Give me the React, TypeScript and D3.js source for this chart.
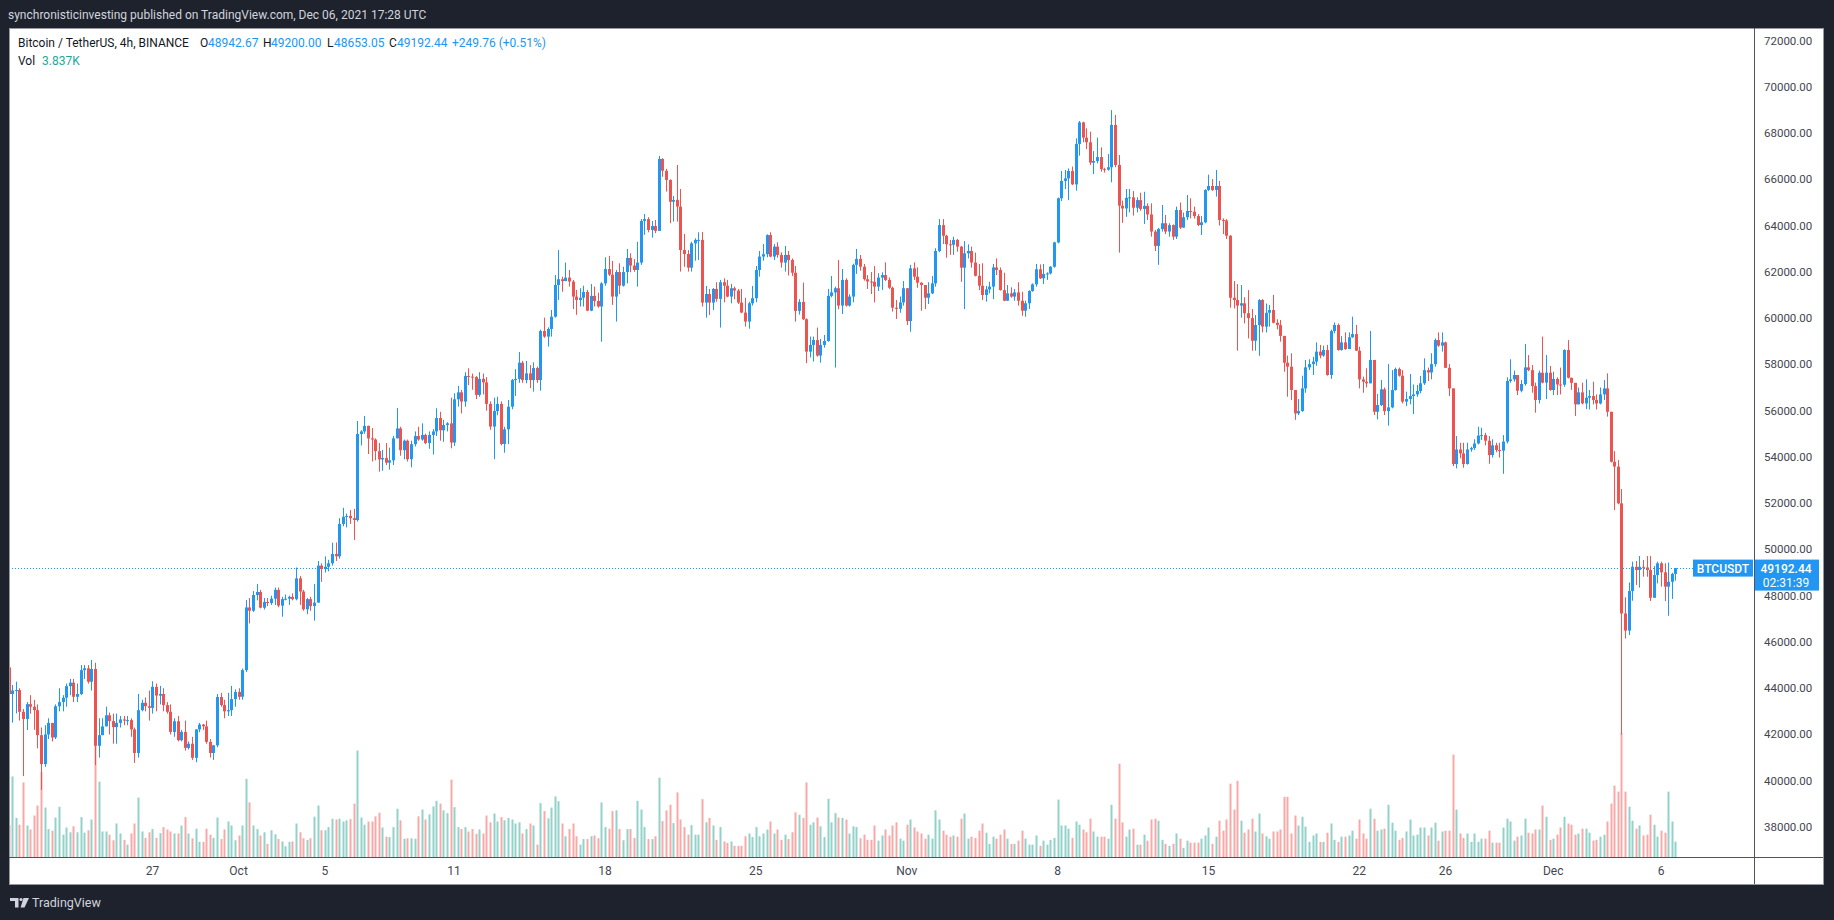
import * as d3 from "d3";
import { useEffect, useRef } from "react";

const WIDTH = 1834;
const HEIGHT = 920;

// BTCUSDT 4h candles, first candle opens 2021-09-20 08:00 UTC. Prices in thousands of USDT.
const firstCandleTime = "2021-09-20T08:00:00Z";
const firstOpen = 44.9;

const closes = [
  43.75, 43.9, 43.92, 42.98, 42.67, 43.31, 43.2, 43.05, 41.97, 40.72,
  42.0, 42.5, 41.87, 43.22, 43.4, 43.59, 44.09, 44.24, 43.63, 43.75,
  44.78, 44.86, 44.28, 44.83, 41.51, 41.97, 42.35, 42.83, 42.58, 42.32,
  42.5, 42.65, 42.6, 42.62, 42.22, 41.2, 43.05, 43.37, 43.22, 43.15,
  44.06, 43.68, 43.75, 43.27, 42.98, 42.11, 42.57, 41.75, 42.11, 41.42,
  41.6, 40.99, 42.22, 42.43, 42.35, 41.68, 41.2, 41.53, 43.62, 43.27,
  43.0, 43.05, 43.53, 43.84, 43.63, 44.78, 47.49, 47.35, 48.03, 48.16,
  47.48, 47.73, 47.68, 47.87, 48.25, 47.57, 47.85, 47.87, 47.95, 47.85,
  48.75, 48.18, 47.41, 47.85, 47.55, 47.7, 49.3, 49.15, 49.25, 49.4,
  49.8, 49.7, 51.1, 51.41, 51.45, 51.35, 51.27, 54.99, 55.1, 55.34,
  54.8, 54.75, 54.25, 53.89, 53.95, 53.75, 53.85, 54.8, 55.23, 54.29,
  54.7, 53.9, 54.55, 54.9, 54.75, 54.95, 54.6, 54.95, 55.1, 55.68,
  55.15, 55.38, 55.45, 54.62, 56.49, 56.79, 56.39, 57.5, 57.47, 57.45,
  56.68, 57.37, 57.22, 56.29, 55.31, 55.98, 56.29, 54.56, 55.19, 56.17,
  57.32, 57.37, 58.07, 57.32, 57.61, 57.32, 57.84, 57.32, 59.44, 59.2,
  59.53, 60.06, 61.43, 61.68, 61.6, 61.75, 61.58, 60.93, 60.78, 60.88,
  61.13, 60.32, 60.96, 60.74, 60.5, 61.5, 62.12, 61.88, 60.93, 61.99,
  61.4, 61.99, 62.6, 62.27, 62.08, 62.4, 64.2, 64.28, 63.81, 63.98,
  63.77, 66.88, 66.37, 65.97, 65.03, 65.11, 64.82, 62.94, 62.77, 62.18,
  63.23, 63.38, 63.38, 60.67, 61.04, 60.67, 61.26, 60.83, 61.55, 61.4,
  60.93, 61.29, 61.19, 60.67, 60.24, 59.85, 60.64, 60.86, 62.08, 62.66,
  62.76, 63.59, 62.66, 63.09, 62.73, 62.4, 62.73, 62.51, 61.96, 60.31,
  60.7, 59.95, 58.55, 58.84, 59.05, 58.38, 58.84, 59.01, 60.96, 61.11,
  61.29, 60.54, 61.65, 60.54, 60.93, 62.3, 62.56, 62.22, 61.68, 61.58,
  61.57, 61.36, 61.75, 61.86, 61.65, 61.31, 60.45, 60.4, 60.68, 61.29,
  59.87, 62.15, 61.79, 61.53, 61.43, 60.88, 61.07, 61.5, 62.9, 64.02,
  63.56, 63.19, 63.17, 63.38, 63.09, 62.18, 62.8, 62.9, 62.4, 61.83,
  61.4, 61.0, 61.24, 61.36, 62.19, 62.08, 61.21, 60.75, 61.07, 60.93,
  61.11, 60.75, 60.32, 60.64, 61.17, 61.46, 62.11, 61.72, 61.91, 61.93,
  62.22, 63.27, 65.18, 65.93, 66.04, 66.36, 65.78, 67.53, 68.46, 67.8,
  67.6, 66.72, 66.79, 66.96, 66.44, 66.42, 66.52, 68.35, 66.62, 64.86,
  64.74, 65.2, 65.22, 64.77, 65.1, 64.72, 64.85, 64.48, 63.74, 63.12,
  63.85, 64.1, 63.74, 64.02, 63.52, 64.67, 63.91, 64.36, 64.63, 64.6,
  64.41, 64.02, 64.14, 65.54, 65.71, 65.54, 65.71, 64.24, 64.22, 63.56,
  60.88, 60.78, 60.54, 60.64, 60.21, 60.0, 59.02, 59.7, 60.78, 59.63,
  60.23, 60.35, 59.8, 59.7, 59.23, 58.07, 57.9, 56.89, 55.88, 55.98,
  56.96, 57.87, 58.01, 58.12, 58.55, 58.38, 58.62, 57.54, 59.44, 59.7,
  58.62, 58.95, 58.66, 59.17, 59.31, 58.59, 57.35, 57.25, 57.18, 58.19,
  55.95, 56.24, 56.92, 55.98, 56.14, 56.89, 57.8, 57.51, 56.39, 56.5,
  56.63, 56.7, 56.85, 57.18, 57.75, 57.65, 58.01, 59.05, 58.81, 58.95,
  57.85, 56.96, 53.69, 54.32, 54.15, 53.69, 54.32, 54.38, 54.58, 54.92,
  54.94, 54.7, 54.08, 54.5, 54.3, 54.27, 54.66, 57.28, 57.35, 57.54,
  56.86, 57.15, 57.87, 57.75, 57.06, 56.46, 57.64, 57.21, 57.64, 56.89,
  57.37, 57.13, 57.12, 58.62, 57.42, 57.2, 56.27, 56.79, 56.31, 56.56,
  56.63, 56.46, 56.31, 56.7, 56.96, 55.95, 53.79, 53.58, 51.99, 47.23,
  46.49, 48.2, 49.25, 49.11, 49.25, 49.22, 49.11, 47.91, 48.89, 49.4,
  49.01, 48.39, 48.6, 48.94267, 49.19244,
];

const highs = [
  45.3, 44.14, 44.28, 44.0, 43.1, 43.4, 43.7, 43.5, 43.3, 42.3,
  42.4, 42.7, 42.5, 43.3, 44.0, 43.7, 44.2, 44.4, 44.4, 44.2,
  45.0, 45.0, 45.0, 45.22, 45.1, 42.7, 42.7, 43.2, 42.95, 42.9,
  42.9, 42.8, 42.8, 42.8, 42.7, 42.3, 43.75, 43.5, 43.6, 43.9,
  44.3, 44.2, 44.1, 44.0, 43.4, 43.3, 42.7, 42.8, 42.2, 42.6,
  41.7, 41.9, 42.22, 42.5, 42.45, 42.6, 41.8, 41.55, 43.75, 43.8,
  43.5, 43.8, 44.1, 43.95, 44.0, 44.85, 47.81, 47.9, 48.2, 48.5,
  48.25, 47.9, 47.9, 48.0, 48.35, 48.35, 47.95, 48.05, 48.0, 48.1,
  49.22, 48.85, 48.25, 47.9, 47.95, 48.5, 49.5, 49.4, 49.7, 49.55,
  50.29, 50.3, 51.35, 51.8, 51.55, 51.7, 51.75, 55.55, 55.15, 55.77,
  55.35, 55.25, 54.8, 54.6, 54.3, 54.6, 54.4, 54.9, 56.11, 55.3,
  54.75, 54.75, 54.7, 55.1, 55.3, 55.45, 55.0, 55.1, 55.2, 56.1,
  55.95, 55.6, 55.5, 56.56, 56.75, 57.07, 56.9, 57.66, 57.83, 57.6,
  57.5, 57.66, 57.6, 57.45, 56.4, 56.56, 56.6, 56.4, 55.3, 56.46,
  57.37, 57.79, 58.53, 58.15, 58.15, 57.97, 58.09, 57.9, 59.5, 60.02,
  59.6, 60.35, 61.86, 62.94, 61.79, 62.4, 62.08, 61.65, 61.22, 61.29,
  61.4, 61.22, 61.47, 61.36, 61.1, 61.55, 62.63, 62.69, 62.47, 62.08,
  62.37, 62.22, 62.99, 62.8, 62.55, 63.3, 64.28, 64.5, 64.36, 64.2,
  64.24, 67.01, 66.91, 66.45, 66.0, 65.28, 66.62, 65.58, 63.64, 62.94,
  63.3, 63.45, 63.71, 63.72, 61.39, 61.26, 61.3, 61.55, 61.65, 61.72,
  61.65, 61.48, 61.36, 61.26, 61.26, 60.88, 60.71, 61.39, 62.25, 62.9,
  63.2, 63.62, 63.71, 63.2, 63.28, 62.84, 63.12, 62.9, 62.58, 62.25,
  60.82, 61.53, 59.99, 59.2, 59.2, 59.59, 59.1, 59.27, 61.26, 61.82,
  61.36, 62.51, 62.12, 61.72, 61.03, 62.35, 62.99, 62.73, 62.34, 61.86,
  61.99, 62.25, 61.94, 61.98, 62.41, 61.76, 61.36, 60.78, 60.93, 61.6,
  61.29, 62.3, 62.41, 62.19, 61.55, 61.43, 61.55, 61.82, 63.02, 64.28,
  64.28, 63.6, 63.38, 63.52, 63.42, 63.12, 63.33, 63.19, 63.09, 62.83,
  62.34, 62.37, 61.39, 61.57, 62.34, 62.58, 62.19, 61.96, 61.43, 61.33,
  61.26, 61.55, 61.14, 60.75, 61.2, 61.5, 62.34, 62.32, 62.34, 61.98,
  62.25, 63.3, 65.21, 66.36, 66.4, 66.47, 66.55, 67.77, 68.52, 68.49,
  68.2, 68.06, 67.22, 67.8, 67.38, 66.5, 67.09, 68.99, 68.78, 67.05,
  65.08, 65.58, 65.58, 65.49, 65.22, 65.42, 65.46, 64.96, 64.96, 63.81,
  63.9, 64.89, 64.46, 64.1, 64.05, 64.82, 65.0, 64.56, 65.32, 65.18,
  64.82, 64.5, 64.41, 65.57, 66.2, 66.01, 66.4, 65.93, 64.31, 64.28,
  63.59, 61.6, 61.47, 61.43, 60.9, 61.21, 60.39, 60.13, 60.82, 60.82,
  60.63, 60.57, 61.0, 59.95, 59.92, 59.23, 58.38, 58.48, 56.89, 56.5,
  57.51, 58.19, 58.22, 58.33, 58.95, 58.84, 58.81, 58.84, 59.5, 59.81,
  59.77, 59.22, 59.38, 59.38, 60.06, 59.7, 58.76, 57.47, 57.83, 59.44,
  58.19, 56.72, 57.32, 57.0, 58.01, 57.75, 57.86, 57.86, 57.75, 56.82,
  57.58, 57.13, 57.11, 57.5, 58.26, 57.86, 58.48, 59.12, 59.38, 59.38,
  58.98, 58.01, 56.96, 54.9, 54.61, 54.61, 54.61, 54.44, 54.76, 55.3,
  55.26, 55.04, 54.9, 54.76, 54.61, 54.61, 54.94, 57.44, 58.22, 57.73,
  57.54, 57.32, 58.88, 58.4, 57.97, 57.21, 57.73, 59.2, 58.4, 57.93,
  57.68, 57.44, 57.86, 58.65, 59.05, 57.42, 57.2, 57.0, 57.21, 57.35,
  56.89, 57.25, 56.7, 57.0, 57.32, 57.61, 55.95, 54.25, 53.86, 52.61,
  47.93, 48.57, 49.47, 49.5, 49.71, 49.54, 49.71, 49.71, 49.28, 49.47,
  49.47, 49.4, 49.43, 48.99, 49.2,
];

const lows = [
  43.4, 42.51, 42.91, 42.6, 40.2, 42.19, 42.9, 42.2, 41.4, 39.6,
  40.6, 41.8, 41.7, 41.8, 43.0, 43.0, 43.2, 43.7, 43.4, 43.4,
  43.7, 44.4, 44.2, 43.9, 40.67, 41.0, 42.0, 42.35, 42.0, 41.6,
  41.6, 42.3, 42.4, 42.4, 41.9, 40.77, 41.0, 43.0, 43.0, 42.6,
  42.9, 43.0, 43.3, 43.0, 42.9, 42.0, 41.9, 41.7, 41.7, 41.3,
  41.35, 40.9, 40.8, 42.1, 42.2, 41.6, 41.0, 40.9, 41.45, 43.2,
  42.7, 42.8, 42.8, 43.2, 43.5, 43.5, 44.7, 46.8, 47.3, 47.8,
  47.45, 47.4, 47.55, 47.6, 47.6, 47.5, 47.09, 47.8, 47.6, 47.8,
  47.8, 47.6, 47.35, 47.2, 47.35, 46.92, 47.7, 48.6, 49.0, 49.05,
  49.3, 49.5, 49.6, 51.0, 50.95, 51.1, 50.41, 51.2, 54.5, 55.0,
  54.12, 53.8, 53.85, 53.36, 53.4, 53.65, 53.45, 53.65, 54.8, 54.05,
  53.9, 53.8, 53.55, 54.45, 54.7, 54.7, 54.55, 54.35, 54.1, 54.9,
  54.7, 54.65, 55.1, 54.37, 54.47, 56.17, 55.88, 56.17, 57.1, 56.9,
  56.5, 56.6, 56.7, 56.0, 55.17, 53.9, 55.8, 54.5, 54.18, 54.55,
  56.06, 56.63, 57.2, 57.2, 57.18, 56.97, 56.82, 57.2, 56.86, 59.15,
  58.77, 59.2, 60.02, 60.78, 61.14, 61.6, 61.36, 60.39, 60.14, 60.5,
  60.5, 60.3, 60.3, 60.5, 60.45, 58.98, 61.4, 61.82, 60.57, 59.85,
  61.04, 61.36, 61.5, 61.98, 62.0, 61.36, 62.3, 63.6, 63.71, 63.48,
  63.67, 63.77, 66.11, 65.47, 64.1, 64.17, 64.17, 62.01, 62.22, 62.01,
  62.01, 62.48, 62.51, 60.5, 60.02, 60.13, 60.35, 60.71, 59.59, 60.68,
  60.9, 60.64, 60.81, 60.61, 60.21, 59.63, 59.54, 60.54, 60.68, 61.79,
  62.48, 62.63, 62.63, 62.51, 62.61, 62.18, 62.01, 61.84, 61.82, 59.85,
  60.15, 59.92, 58.05, 58.3, 58.12, 58.33, 58.07, 58.72, 58.98, 60.9,
  57.86, 60.38, 60.18, 60.5, 60.5, 60.68, 61.91, 62.05, 61.62, 61.26,
  61.04, 60.68, 61.17, 61.22, 61.6, 61.26, 60.28, 59.96, 60.23, 60.54,
  59.7, 59.41, 61.65, 61.31, 60.32, 60.39, 60.61, 61.04, 61.36, 62.85,
  63.2, 62.61, 62.73, 62.73, 62.87, 61.57, 60.39, 62.58, 62.18, 61.8,
  61.21, 60.78, 60.71, 61.07, 60.82, 61.86, 61.19, 60.73, 60.75, 60.88,
  60.75, 60.54, 60.1, 60.06, 60.39, 61.14, 61.36, 61.69, 61.47, 61.65,
  61.89, 62.18, 63.23, 65.06, 65.58, 65.1, 65.75, 65.51, 67.02, 67.6,
  67.31, 66.62, 66.23, 66.69, 66.33, 66.29, 66.37, 65.87, 66.52, 62.83,
  64.12, 64.38, 64.57, 64.43, 64.57, 64.64, 64.07, 64.24, 63.52, 62.9,
  62.3, 63.74, 63.63, 63.52, 63.38, 63.42, 63.85, 63.91, 64.24, 64.31,
  64.3, 63.98, 63.59, 64.1, 65.49, 65.49, 65.25, 64.0, 63.63, 63.42,
  60.45, 60.42, 58.59, 60.02, 59.77, 59.12, 58.59, 58.59, 58.37, 59.38,
  59.38, 59.63, 59.77, 59.51, 58.98, 57.68, 56.6, 56.46, 55.6, 55.81,
  55.95, 56.77, 57.76, 57.54, 57.94, 58.26, 58.33, 57.51, 57.37, 59.34,
  58.59, 58.59, 58.62, 58.66, 59.15, 58.58, 56.96, 56.77, 57.0, 57.18,
  55.81, 55.62, 56.2, 55.81, 55.35, 56.1, 56.86, 57.47, 56.31, 56.2,
  56.27, 55.85, 56.6, 56.75, 57.11, 57.28, 57.35, 57.9, 58.76, 58.55,
  57.85, 56.63, 53.6, 53.5, 53.94, 53.53, 53.67, 54.22, 54.3, 54.54,
  54.73, 54.5, 53.7, 53.97, 54.2, 53.97, 53.27, 54.58, 57.21, 57.25,
  56.67, 56.79, 57.08, 57.7, 56.77, 55.91, 56.31, 57.18, 56.5, 56.86,
  56.67, 56.67, 56.7, 57.03, 57.39, 56.9, 55.77, 56.27, 56.27, 56.07,
  56.05, 56.27, 56.05, 56.27, 56.46, 55.74, 53.76, 51.7, 51.95, 42.0,
  46.15, 46.3, 47.78, 48.46, 48.35, 48.82, 48.82, 47.77, 47.91, 48.53,
  48.39, 47.77, 47.13, 47.86, 48.65305,
];

// volume per candle, thousands of BTC
const volumes = [
  8.0, 20.2, 9.8, 8.1, 18.7, 7.9, 6.9, 10.4, 12.9, 21.3,
  12.4, 7.0, 6.6, 9.9, 12.6, 5.6, 7.4, 6.2, 7.7, 6.2,
  10.0, 6.1, 6.7, 9.4, 27.8, 18.9, 6.4, 6.4, 5.6, 4.2,
  8.4, 5.9, 4.3, 3.1, 5.9, 8.4, 14.9, 6.4, 4.8, 6.2,
  7.0, 4.8, 6.0, 7.5, 6.9, 6.4, 5.9, 5.9, 7.9, 10.0,
  5.9, 4.7, 7.1, 3.8, 3.8, 7.1, 5.6, 4.8, 9.9, 4.5,
  6.9, 8.9, 7.9, 4.2, 5.4, 7.9, 19.6, 13.7, 7.9, 7.0,
  5.4, 6.2, 3.3, 6.7, 5.7, 4.5, 3.9, 2.7, 3.8, 3.9,
  8.4, 6.2, 4.7, 4.3, 4.7, 10.1, 12.9, 6.7, 6.7, 7.5,
  9.6, 9.4, 9.6, 8.9, 9.2, 9.5, 13.4, 26.7, 9.9, 8.1,
  8.9, 8.9, 10.2, 11.1, 7.4, 5.1, 5.0, 7.5, 12.1, 9.2,
  4.6, 4.7, 4.7, 4.6, 10.2, 11.9, 9.4, 10.7, 12.7, 14.1,
  13.4, 11.7, 11.0, 19.4, 12.5, 7.5, 7.0, 7.5, 6.4, 7.0,
  5.8, 6.9, 5.9, 10.4, 8.7, 10.9, 8.9, 10.0, 9.2, 9.8,
  9.4, 8.4, 8.7, 5.9, 7.0, 8.4, 7.9, 3.1, 13.5, 11.5,
  9.7, 12.4, 15.2, 14.0, 8.4, 5.2, 7.0, 8.4, 5.2, 3.1,
  4.5, 4.5, 5.2, 5.4, 4.7, 13.7, 7.5, 7.1, 11.5, 11.7,
  7.0, 4.2, 7.0, 7.0, 4.8, 14.1, 11.9, 7.5, 4.5, 4.5,
  5.2, 19.9, 9.0, 11.7, 13.1, 8.5, 16.2, 9.4, 7.5, 5.6,
  8.0, 5.6, 5.6, 14.5, 8.7, 9.8, 7.9, 4.3, 7.5, 3.9,
  3.5, 3.9, 2.8, 2.8, 2.8, 5.2, 5.9, 5.0, 7.5, 5.2,
  5.9, 6.9, 8.9, 5.9, 6.9, 4.3, 5.6, 4.5, 6.2, 11.2,
  10.6, 9.8, 18.7, 8.1, 8.7, 9.9, 7.7, 5.0, 14.6, 8.7,
  11.0, 9.9, 9.8, 9.4, 5.9, 7.7, 7.5, 4.7, 5.6, 4.3,
  4.3, 7.9, 4.1, 5.4, 6.9, 5.4, 7.9, 8.7, 4.6, 4.1,
  8.1, 9.4, 7.4, 6.4, 5.9, 4.6, 5.6, 4.6, 11.7, 9.4,
  6.6, 5.6, 5.1, 5.4, 5.1, 9.6, 10.9, 4.6, 5.1, 4.8,
  6.6, 8.4, 6.1, 3.3, 5.1, 4.6, 5.6, 6.9, 4.6, 3.3,
  3.3, 4.1, 6.6, 4.6, 3.1, 3.1, 5.4, 2.8, 4.1, 3.1,
  4.3, 4.8, 14.4, 7.9, 7.9, 7.1, 4.8, 8.9, 8.1, 6.9,
  6.2, 9.6, 6.4, 5.1, 5.1, 5.1, 4.6, 13.1, 9.6, 23.4,
  8.7, 5.1, 6.9, 7.1, 3.1, 3.1, 5.6, 4.1, 9.4, 9.6,
  9.1, 4.3, 3.3, 2.8, 3.3, 5.9, 4.6, 2.3, 4.1, 3.6,
  3.6, 3.6, 4.6, 5.4, 7.4, 3.3, 5.1, 9.1, 6.6, 9.4,
  18.4, 11.9, 19.1, 9.1, 6.1, 6.9, 9.6, 6.4, 10.9, 5.9,
  5.2, 4.6, 6.4, 6.4, 6.9, 15.1, 15.1, 5.9, 10.4, 7.9,
  10.1, 7.6, 3.8, 5.4, 5.9, 3.8, 3.8, 6.1, 8.4, 4.3,
  3.8, 5.1, 5.1, 5.4, 6.6, 4.6, 9.4, 5.9, 4.6, 12.1,
  9.6, 6.6, 6.9, 7.1, 13.1, 8.6, 6.6, 4.3, 4.8, 6.4,
  9.4, 5.4, 5.6, 7.4, 7.4, 5.4, 7.4, 8.6, 4.1, 6.4,
  6.6, 6.6, 25.7, 11.9, 5.9, 4.8, 5.9, 3.8, 5.9, 3.8,
  4.6, 4.6, 6.6, 3.6, 3.6, 3.6, 7.4, 9.6, 8.9, 4.1,
  5.1, 5.4, 9.6, 6.1, 5.9, 6.9, 6.9, 12.9, 10.1, 4.3,
  4.6, 5.6, 7.4, 10.1, 8.4, 8.1, 5.6, 5.9, 7.1, 7.1,
  6.1, 4.1, 4.3, 5.1, 5.6, 8.9, 13.4, 17.9, 16.4, 31.1,
  16.4, 12.6, 9.1, 7.1, 7.9, 5.4, 5.6, 10.6, 8.1, 5.1,
  6.6, 6.1, 16.4, 8.9, 3.837,
];

const priceTicks = [38000, 40000, 42000, 44000, 46000, 48000, 50000, 52000, 54000, 56000, 58000, 60000, 62000, 64000, 66000, 68000, 70000, 72000];
const dayTicks = ["2021-09-27", "2021-10-01", "2021-10-05", "2021-10-11", "2021-10-18", "2021-10-25", "2021-11-01", "2021-11-08", "2021-11-15", "2021-11-22", "2021-11-26", "2021-12-01", "2021-12-06"];
const dayLabels = ["27", "Oct", "5", "11", "18", "25", "Nov", "8", "15", "22", "26", "Dec", "6"];

// legend change as shown by TradingView
const lastChange = "+249.76 (+0.51%)";
const countdown = "02:31:39";

const UP = "#2196f3";
const DOWN = "#ef5350";
const UP_VOL = "#92d2ca";
const DOWN_VOL = "#f7a9a7";

interface Candle {
  time: Date;
  open: number;
  high: number;
  low: number;
  close: number;
  volume: number;
}

const App = () => {
  const svgRef = useRef<SVGSVGElement>(null);

  useEffect(() => {
    document.body.style.margin = "0";
    document.body.style.background = "#1e222d";

    const svg = d3.select(svgRef.current);
    svg.selectAll("*").remove();

    const font = "Roboto, 'Liberation Sans', sans-serif";
    const t0 = new Date(firstCandleTime).getTime();
    const candles: Candle[] = closes.map((c, i) => {
      const open = (i === 0 ? firstOpen : closes[i - 1]) * 1000;
      const close = c * 1000;
      return {
        time: new Date(t0 + i * 4 * 3600 * 1000),
        open,
        close,
        high: Math.max(highs[i] * 1000, open, close),
        low: Math.min(lows[i] * 1000, open, close),
        volume: volumes[i],
      };
    });

    // layout of the TradingView snapshot
    const panelLeft = 9;
    const panelTop = 28;
    const panelRight = 1823;
    const panelBottom = 884;
    const plotRight = 1754;
    const axisTop = 857;

    const x = d3
      .scaleUtc()
      .domain([new Date("2021-09-27T00:00:00Z"), new Date("2021-12-06T00:00:00Z")])
      .range([152.4, 1661]);
    const y = d3.scaleLinear().domain([38000, 72000]).range([827, 40.5]);
    const yVol = d3.scaleLinear().domain([0, d3.max(volumes) as number]).range([axisTop, 733]);

    svg.append("rect").attr("width", WIDTH).attr("height", HEIGHT).attr("fill", "#1e222d");

    svg
      .append("text")
      .attr("x", 8)
      .attr("y", 15)
      .attr("dominant-baseline", "central")
      .attr("fill", "#d1d4dc")
      .style("font-family", font)
      .style("font-size", "12px")
      .text("synchronisticinvesting published on TradingView.com, Dec 06, 2021 17:28 UTC");

    svg
      .append("rect")
      .attr("x", panelLeft + 0.5)
      .attr("y", panelTop + 0.5)
      .attr("width", panelRight - panelLeft)
      .attr("height", panelBottom - panelTop)
      .attr("fill", "#ffffff")
      .attr("stroke", "#9598a1")
      .attr("stroke-width", 1);

    svg
      .append("defs")
      .append("clipPath")
      .attr("id", "plot-clip")
      .append("rect")
      .attr("x", panelLeft + 1)
      .attr("y", panelTop + 1)
      .attr("width", plotRight - panelLeft - 1)
      .attr("height", axisTop - panelTop - 1);

    const plot = svg.append("g").attr("clip-path", "url(#plot-clip)");

    // volume bars
    plot
      .append("g")
      .selectAll("rect")
      .data(candles)
      .enter()
      .append("rect")
      .attr("x", (d) => Math.round(x(d.time)) - 0.5)
      .attr("y", (d) => yVol(d.volume))
      .attr("width", 2)
      .attr("height", (d) => axisTop - yVol(d.volume))
      .attr("fill", (d) => (d.close >= d.open ? UP_VOL : DOWN_VOL));

    // last price line
    const last = candles[candles.length - 1];
    const ly = y(last.close);
    plot
      .append("line")
      .attr("x1", panelLeft)
      .attr("x2", 1693)
      .attr("y1", Math.round(ly) + 0.5)
      .attr("y2", Math.round(ly) + 0.5)
      .attr("stroke", UP)
      .attr("stroke-width", 1)
      .attr("stroke-dasharray", "1 2");

    // candles
    const cg = plot
      .append("g")
      .selectAll("g")
      .data(candles)
      .enter()
      .append("g")
      .attr("fill", (d) => (d.close >= d.open ? UP : DOWN))
      .attr("stroke", (d) => (d.close >= d.open ? UP : DOWN));

    cg.append("line")
      .attr("x1", (d) => Math.round(x(d.time)) + 0.5)
      .attr("x2", (d) => Math.round(x(d.time)) + 0.5)
      .attr("y1", (d) => y(d.high))
      .attr("y2", (d) => y(d.low))
      .attr("stroke-width", 1);

    cg.append("rect")
      .attr("x", (d) => Math.round(x(d.time)) - 1)
      .attr("y", (d) => y(Math.max(d.open, d.close)))
      .attr("width", 3)
      .attr("height", (d) => Math.max(1, Math.abs(y(d.open) - y(d.close))))
      .attr("stroke", "none");

    // axis separators
    svg
      .append("line")
      .attr("x1", plotRight + 0.5)
      .attr("x2", plotRight + 0.5)
      .attr("y1", panelTop)
      .attr("y2", panelBottom)
      .attr("stroke", "#50535e");
    svg
      .append("line")
      .attr("x1", panelLeft)
      .attr("x2", panelRight)
      .attr("y1", axisTop + 0.5)
      .attr("y2", axisTop + 0.5)
      .attr("stroke", "#50535e");

    // price axis
    svg
      .append("g")
      .selectAll("text")
      .data(priceTicks)
      .enter()
      .append("text")
      .attr("x", 1764)
      .attr("y", (d) => y(d))
      .attr("dominant-baseline", "central")
      .attr("fill", "#434651")
      .style("font-family", font)
      .style("font-size", "11.5px")
      .text((d) => d3.format(".2f")(d));

    // time axis
    svg
      .append("g")
      .selectAll("text")
      .data(dayTicks)
      .enter()
      .append("text")
      .attr("x", (d) => x(new Date(d + "T00:00:00Z")))
      .attr("y", 871)
      .attr("text-anchor", "middle")
      .attr("dominant-baseline", "central")
      .attr("fill", "#434651")
      .style("font-family", font)
      .style("font-size", "12px")
      .text((_, i) => dayLabels[i]);

    // last price labels
    svg
      .append("rect")
      .attr("x", 1693)
      .attr("y", ly - 8.5)
      .attr("width", 60)
      .attr("height", 17)
      .attr("fill", UP);
    svg
      .append("text")
      .attr("x", 1723)
      .attr("y", ly + 0.5)
      .attr("text-anchor", "middle")
      .attr("dominant-baseline", "central")
      .attr("fill", "#ffffff")
      .style("font-family", font)
      .style("font-size", "12px")
      .style("font-weight", "500")
      .text("BTCUSDT");
    svg
      .append("rect")
      .attr("x", plotRight + 1)
      .attr("y", ly - 8.5)
      .attr("width", 64)
      .attr("height", 31)
      .attr("fill", UP);
    svg
      .append("text")
      .attr("x", 1786)
      .attr("y", ly + 1)
      .attr("text-anchor", "middle")
      .attr("dominant-baseline", "central")
      .attr("fill", "#ffffff")
      .style("font-family", font)
      .style("font-size", "12px")
      .style("font-weight", "500")
      .text(d3.format(".2f")(last.close));
    svg
      .append("text")
      .attr("x", 1786)
      .attr("y", ly + 15)
      .attr("text-anchor", "middle")
      .attr("dominant-baseline", "central")
      .attr("fill", "#ffffff")
      .style("font-family", font)
      .style("font-size", "12px")
      .text(countdown);

    // legend
    const legend = svg
      .append("g")
      .style("font-family", font)
      .style("font-size", "12px")
      .attr("dominant-baseline", "central");
    const legendItems: [number, number, string, string][] = [
      [18, 43, "#131722", "Bitcoin / TetherUS, 4h, BINANCE"],
      [200, 43, "#131722", "O"],
      [208, 43, UP, d3.format(".2f")(last.open)],
      [263, 43, "#131722", "H"],
      [271, 43, UP, d3.format(".2f")(last.high)],
      [327, 43, "#131722", "L"],
      [334, 43, UP, d3.format(".2f")(last.low)],
      [389, 43, "#131722", "C"],
      [397, 43, UP, d3.format(".2f")(last.close)],
      [452, 43, UP, lastChange],
      [18, 61, "#131722", "Vol"],
      [42, 61, "#26a69a", `${last.volume.toFixed(3)}K`],
    ];
    legend
      .selectAll("text")
      .data(legendItems)
      .enter()
      .append("text")
      .attr("x", (d) => d[0])
      .attr("y", (d) => d[1])
      .attr("fill", (d) => d[2])
      .text((d) => d[3]);

    // TradingView mark
    const logo = svg.append("g").attr("fill", "#d1d4dc");
    logo.append("path").attr("d", "M10,898 H18.5 V907.5 H15 V901 H10 Z");
    logo.append("circle").attr("cx", 21).attr("cy", 899.5).attr("r", 1.6);
    logo.append("path").attr("d", "M23.5,898 H29 L24.5,907.5 H20.5 Z");
    svg
      .append("text")
      .attr("x", 32)
      .attr("y", 902.5)
      .attr("dominant-baseline", "central")
      .attr("fill", "#d1d4dc")
      .style("font-family", font)
      .style("font-size", "12.5px")
      .text("TradingView");
  }, []);

  return <svg ref={svgRef} width={WIDTH} height={HEIGHT} style={{ display: "block" }} />;
};

export default App;
